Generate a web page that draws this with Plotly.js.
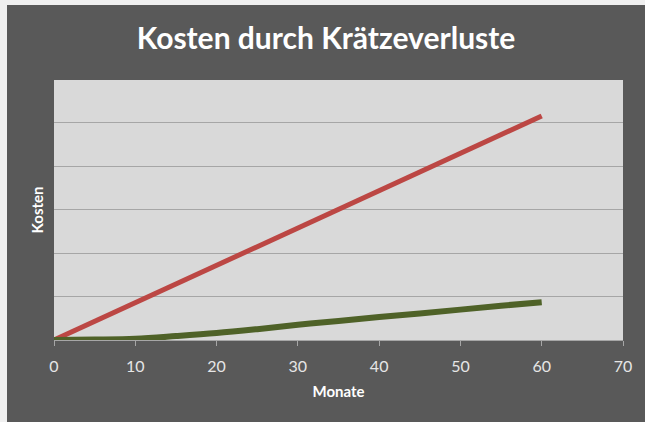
<!DOCTYPE html>
<html>
<head>
<meta charset="utf-8">
<script src="https://cdn.plot.ly/plotly-3.0.1.min.js"></script>
<style>
html,body{margin:0;padding:0;background:#f0f0f0;width:645px;height:422px;overflow:hidden;}
#chart{position:absolute;left:7px;top:5px;width:638px;height:417px;}
</style>
</head>
<body>
<div id="chart"></div>
<script>
// Data (y in arbitrary units; axis has no labels)
var months = [0, 5, 10, 15, 20, 25, 30, 35, 40, 45, 50, 55, 60];
var redCosts = [0, 0.43, 0.86, 1.29, 1.72, 2.15, 2.58, 3.01, 3.44, 3.87, 4.30, 4.73, 5.16];
var greenCosts = [0, 0.01, 0.03, 0.09, 0.16, 0.25, 0.35, 0.44, 0.53, 0.61, 0.70, 0.79, 0.87];
var xTicks = [0, 10, 20, 30, 40, 50, 60, 70];

var font = "Lato, 'Open Sans', sans-serif";

var traces = [
  {x: months, y: redCosts, mode: 'lines', line: {color: '#bc4744', width: 5}, hoverinfo: 'none'},
  {x: months, y: greenCosts, mode: 'lines', line: {color: '#4f6228', width: 6, shape: 'spline'}, hoverinfo: 'none'}
];

var layout = {
  width: 638, height: 417,
  paper_bgcolor: '#595959',
  plot_bgcolor: '#d9d9d9',
  showlegend: false,
  margin: {l: 47, r: 22, t: 75, b: 82},
  title: {text: '<b>Kosten durch Krätzeverluste</b>', font: {family: font, size: 30, color: '#ffffff'}, x: 0.5, xanchor: 'center', y: 0.92, yanchor: 'middle'},
  xaxis: {
    range: [0, 70], tickvals: xTicks, ticktext: xTicks.map(String),
    showgrid: false, zeroline: false,
    showline: true, linecolor: '#a6a6a6', linewidth: 1,
    ticks: 'outside', ticklen: 5, tickcolor: '#a6a6a6',
    ticklabelstandoff: 7,
    tickfont: {family: font, size: 16, color: '#e6e6e6'},
    title: {text: '<b>Monate</b>', font: {family: font, size: 15, color: '#ffffff'}, standoff: 12}
  },
  yaxis: {
    range: [0, 5.99], dtick: 1, showticklabels: false,
    showgrid: true, gridcolor: '#a6a6a6', gridwidth: 1,
    zeroline: false, showline: false, ticks: '',
    title: {text: '<b>Kosten</b>', font: {family: font, size: 15, color: '#ffffff'}, standoff: 5}
  }
};

Plotly.newPlot('chart', traces, layout, {displayModeBar: false, staticPlot: true});
</script>
</body>
</html>
